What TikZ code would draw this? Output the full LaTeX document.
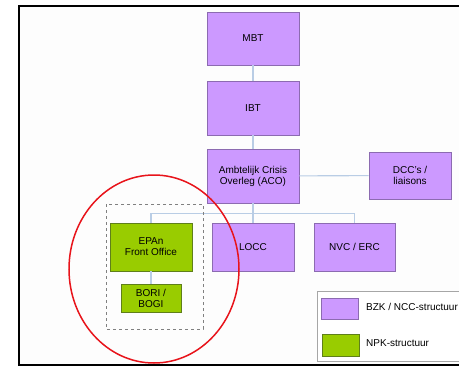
\documentclass[tikz,border=0pt]{standalone}
\usepackage{fontspec}
\setmainfont{Liberation Sans}
\usepackage{xcolor}
\definecolor{bzkfill}{HTML}{CC99FF}
\definecolor{bzkline}{HTML}{8C6BB1}
\definecolor{npkfill}{HTML}{99CC00}
\definecolor{npkline}{HTML}{5F7F1A}
\definecolor{linkline}{HTML}{B9CDE5}
\definecolor{ringred}{HTML}{E8141B}

\begin{document}
\begin{tikzpicture}[x=1pt, y=-1pt,
        font=\fontsize{10}{11}\selectfont,
        bzk/.style={draw=bzkline, fill=bzkfill, line width=0.8pt, align=center,
            inner sep=0pt, minimum width=82pt, minimum height=48pt},
        npk/.style={draw=npkline, fill=npkfill, line width=0.8pt, align=center,
            inner sep=0pt, minimum width=82pt, minimum height=48pt},
        link/.style={draw=linkline, line width=1.1pt},
        keytext/.style={anchor=west, inner sep=0pt}]
    \useasboundingbox (0,0) rectangle (459,368);
    \clip (0,0) rectangle (459,368);
    \fill [white] (0,0) rectangle (459,368);
    % frame
    \draw [fill={rgb,255:red,253;green,253;blue,253}, line width=1.8pt] (19,6) rectangle (475,365);

    % chain at the top
    \node [bzk, minimum width=92pt, minimum height=53pt] (mbt) at (253,38.5) {MBT};
    \node [bzk, minimum width=92pt, minimum height=54pt] (ibt) at (253,108) {IBT};
    \node [bzk, minimum width=92pt, minimum height=54pt] (aco) at (253,176)
        {Ambtelijk Crisis\\Overleg (ACO)};
    \node [bzk, minimum height=47pt] (dcc) at (410,175.5) {DCC's /\\liaisons};

    % row below ACO
    \node [npk] (epan) at (151,247) {EPAn\\Front Office};
    \node [bzk] (locc) at (253,247) {LOCC};
    \node [bzk, minimum width=81pt] (nvc) at (354.5,247) {NVC / ERC};
    \node [npk, minimum width=60pt, minimum height=28pt] (bori) at (151,298) {BORI /\\BOGI};

    \draw [link] (mbt) -- (ibt);
    \draw [link] (ibt) -- (aco);
    \draw [link] (aco) -- (dcc);
    \draw [link] (aco.south) -- (locc.north);
    \draw [link] (aco.south) ++(0,10) coordinate (bus) -| (epan.north);
    \draw [link] (bus) -| (nvc.north);
    \draw [link] (epan) -- (bori);

    % NPK group
    \draw [dashed, gray, line width=0.7pt] (106,204) rectangle (203,329);
    \draw [ringred, line width=1.5pt] (154,269) ellipse [x radius=85, y radius=94];

    % legend
    \draw [gray!70, line width=0.8pt, fill=white] (317,291) rectangle (475,361);
    \node [bzk, minimum width=37pt, minimum height=21pt] (keybzk) at (339.5,308.5) {};
    \node [npk, minimum width=37pt, minimum height=22pt] (keynpk) at (340.5,345) {};
    \node [keytext] (txtbzk) at (366,307) {BZK / NCC-structuur};
    \node [keytext] (txtnpk) at (366,343) {NPK-structuur};
\end{tikzpicture}
\end{document}
